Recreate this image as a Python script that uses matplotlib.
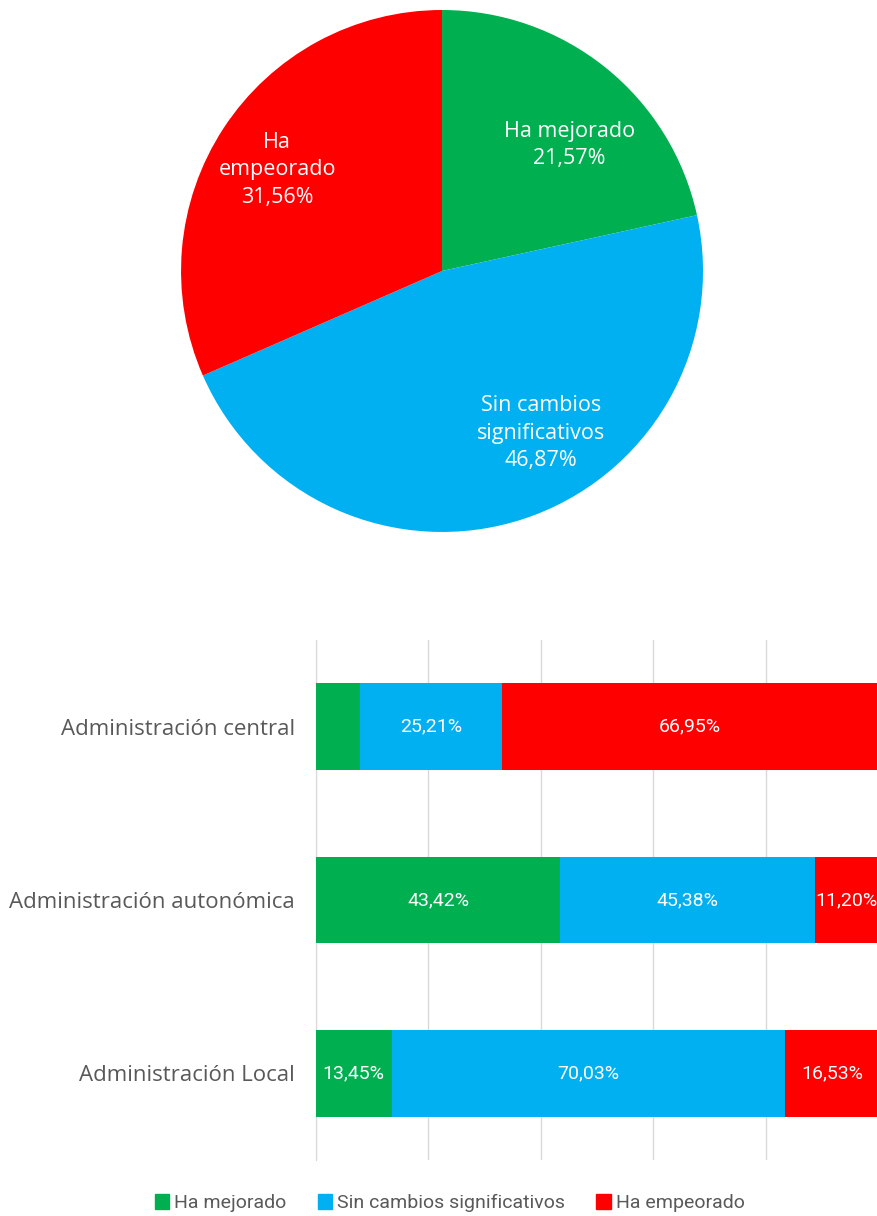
import matplotlib
matplotlib.use("Agg")
import matplotlib.pyplot as plt
from matplotlib.patches import Patch

# pie data
pie_labels = ["Ha mejorado", "Sin cambios\nsignificativos", "Ha\nempeorado"]
pie_values = [21.57, 46.87, 31.56]
pie_colors = ["#00B050", "#00B0F0", "#FF0000"]
# label positions inside pie (data units, radius 1)
pie_label_pos = [(0.487, 0.483), (0.379, -0.621), (-0.632, 0.387)]

# stacked bar data
categories = ["Administración central", "Administración autonómica", "Administración Local"]
series_names = ["Ha mejorado", "Sin cambios significativos", "Ha empeorado"]
mejorado = [7.84, 43.42, 13.45]
sin_cambios = [25.21, 45.38, 70.03]
empeorado = [66.95, 11.20, 16.53]

gray = "#595959"
fig = plt.figure(figsize=(8.78, 12.16), dpi=100)

# ---- pie ----
ax1 = fig.add_axes([0.2062, 0.5625, 0.5945, 0.4293])
ax1.pie(pie_values, colors=pie_colors, startangle=90, counterclock=False,
        radius=1, wedgeprops=dict(linewidth=0))
for lab, v, (x, y) in zip(pie_labels, pie_values, pie_label_pos):
    ax1.text(x, y, "%s\n%s%%" % (lab, ("%.2f" % v).replace(".", ",")),
             ha="center", va="center", color="white", fontsize=15.5,
             family=["Open Sans", "DejaVu Sans"], linespacing=1.42)
ax1.set_xlim(-1, 1)
ax1.set_ylim(-1, 1)
ax1.set_aspect("equal")
ax1.axis("off")

# ---- stacked bars ----
ax2 = fig.add_axes([0.3599, 0.0461, 0.6405, 0.4276])
ypos = range(len(categories))
lefts = [0] * len(categories)
for name, vals, col in zip(series_names, [mejorado, sin_cambios, empeorado], pie_colors):
    bars = ax2.barh(ypos, vals, left=lefts, height=0.5, color=col, label=name, zorder=3)
    for y, l, v in zip(ypos, lefts, vals):
        if v >= 10:
            ax2.text(l + v / 2, y, ("%.2f%%" % v).replace(".", ","), ha="center", va="center",
                     color="white", fontsize=14, family=["Roboto", "DejaVu Sans"], zorder=4,
                     clip_on=False)
    lefts = [a + b for a, b in zip(lefts, vals)]

ax2.set_xlim(0, 100)
ax2.set_ylim(2.5, -0.5)
ax2.set_xticks([0, 20, 40, 60, 80, 100])
ax2.xaxis.grid(True, color="#D9D9D9", linewidth=1, zorder=0)
ax2.tick_params(axis="x", length=0, labelbottom=False)
ax2.tick_params(axis="y", length=0, pad=15)
ax2.set_yticks(list(ypos))
ax2.set_yticklabels(categories, fontsize=16, color=gray, family=["Open Sans", "DejaVu Sans"])
for s in ["top", "right", "bottom"]:
    ax2.spines[s].set_visible(False)
ax2.spines["left"].set_color("#D9D9D9")

handles = [Patch(color=c) for c in pie_colors]
fig.legend(handles, series_names, loc="center", bbox_to_anchor=(0.512, 0.0105), ncol=3,
           frameon=False, handlelength=0.75, handleheight=0.75, handletextpad=0.25,
           columnspacing=1.6, prop={"family": ["Roboto", "DejaVu Sans"], "size": 14},
           labelcolor=gray)

fig.savefig("out.png", dpi=100)
